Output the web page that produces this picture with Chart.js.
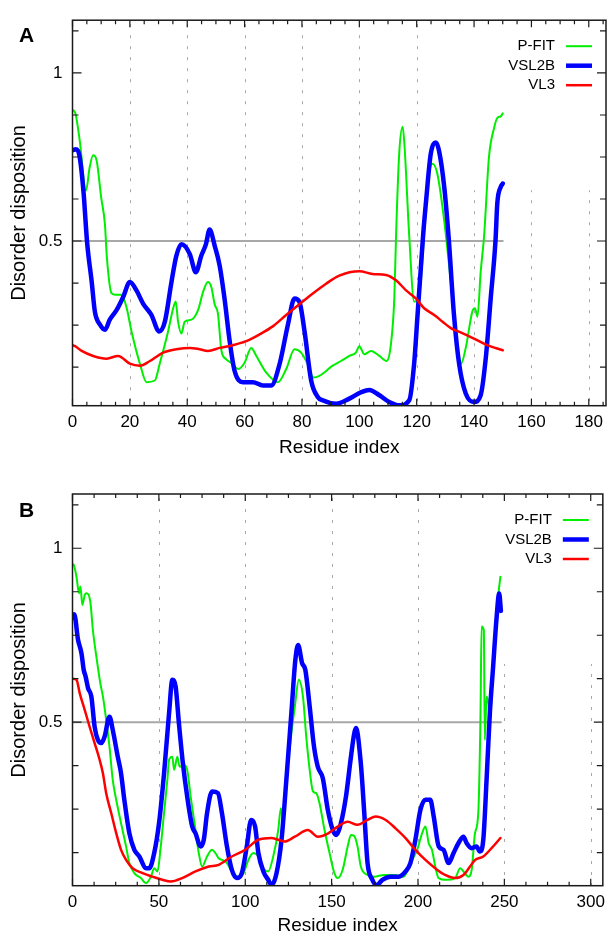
<!DOCTYPE html>
<html>
<head>
<meta charset="utf-8">
<title>Disorder disposition</title>
<script src="https://cdn.jsdelivr.net/npm/chart.js@4.4.1/dist/chart.umd.min.js"></script>
<style>
	html, body { margin: 0; padding: 0; background: #fff; }
	#wrap { position: relative; width: 611px; height: 935px; overflow: hidden; }
	canvas { position: absolute; left: 0; }
	#chartA { top: 0; }
	#chartB { top: 467px; }
</style>
</head>
<body>
<div id="wrap">
	<canvas id="chartA" width="611" height="467"></canvas>
	<canvas id="chartB" width="611" height="468"></canvas>
</div>
<script>
// ---- data: [residue, disorder] ----
var seriesNames = ["P-FIT", "VSL2B", "VL3"];
var cutoff = 0.5;

// panel A (150 residues)
var lenA = 150;
var xTicksA = [0, 20, 40, 60, 80, 100, 120, 140, 160, 180];
var yTicksA = [0.5, 1];
var pfitA = [[0,0.89],[1,0.88],[2.5,0.8],[4.7,0.65],[6,0.72],[7.2,0.755],[8.4,0.74],[10,0.63],[11.3,0.55],[12,0.45],
	[13.6,0.345],[15,0.34],[17.1,0.34],[18.9,0.3],[20.6,0.23],[23.5,0.135],[25.8,0.08],[28.7,0.085],[30.4,0.135],[33.3,0.23],
	[35.1,0.3],[36,0.32],[36.8,0.26],[38,0.225],[39.1,0.26],[41.5,0.266],[43.8,0.295],[45.5,0.348],[47.2,0.378],[48.4,0.363],
	[49.6,0.31],[50.7,0.285],[51.9,0.175],[53.6,0.148],[55.9,0.134],[57.7,0.119],[60,0.138],[62.3,0.182],[64.1,0.158],[67.5,0.109],
	[71.6,0.08],[74.5,0.119],[77.4,0.178],[79.7,0.168],[82,0.134],[84,0.094],[86.1,0.099],[90.7,0.129],[93.6,0.143],[96.5,0.158],
	[98.8,0.168],[100,0.187],[101.7,0.163],[104.1,0.173],[107,0.158],[109.5,0.143],[111,0.192],[112.2,0.33],[112.8,0.515],[113.9,0.76],
	[115.1,0.84],[115.7,0.79],[117.4,0.515],[119.1,0.32],[120.9,0.34],[122.6,0.52],[124,0.68],[125.5,0.73],[127.2,0.7],[129.6,0.56],
	[131.9,0.378],[133.6,0.231],[135.4,0.134],[137.1,0.182],[139.4,0.29],[140.3,0.3],[141.2,0.275],[142.3,0.407],[143.5,0.515],[145.2,0.75],
	[147,0.837],[148.1,0.866],[149.3,0.871],[150,0.88]];
var vsl2bA = [[0,0.77],[1.2,0.773],[2.4,0.755],[3.8,0.65],[5.1,0.495],[6.7,0.378],[7.8,0.29],[9.6,0.251],[11.3,0.236],[13,0.266],
	[15.4,0.295],[17.7,0.334],[20,0.378],[22.3,0.353],[24.6,0.314],[27.5,0.28],[30.2,0.231],[32.2,0.26],[34.5,0.378],[36.2,0.456],
	[38,0.49],[40.9,0.461],[43,0.407],[44.9,0.456],[46.5,0.49],[47.8,0.534],[49.6,0.485],[51.3,0.427],[53,0.329],[54.8,0.202],
	[56.5,0.114],[59.4,0.08],[62.9,0.08],[66.4,0.07],[69.3,0.07],[72.2,0.134],[75.1,0.251],[77.4,0.329],[79.1,0.319],[80.9,0.231],
	[83.2,0.085],[85.5,0.036],[87.2,0.026],[91.9,0.016],[96.5,0.031],[100.6,0.05],[103.5,0.057],[107,0.041],[110.4,0.021],[113.9,0.011],
	[117.4,0.026],[119.1,0.134],[120.3,0.28],[121.5,0.427],[122.3,0.524],[123.2,0.612],[124.9,0.759],[126.7,0.793],[127.8,0.768],[129.6,0.661],
	[131.1,0.515],[133,0.28],[134.8,0.134],[137.1,0.046],[140,0.021],[142.3,0.041],[144.1,0.153],[145.8,0.329],[147.5,0.505],[148.1,0.612],
	[149.3,0.661],[150,0.671]];
var vl3A = [[0,0.19],[0.9,0.187],[3.2,0.173],[7.2,0.158],[11.9,0.15],[15.9,0.158],[20,0.135],[23.5,0.129],[27,0.143],[31.6,0.168],
	[36.2,0.178],[40.9,0.182],[44.3,0.178],[47.2,0.173],[51.3,0.182],[55.9,0.19],[60.6,0.202],[65.2,0.222],[69.8,0.246],[74.5,0.28],
	[79.1,0.312],[83.8,0.344],[88.4,0.373],[93,0.397],[100,0.41],[104.6,0.402],[109.3,0.399],[112.8,0.383],[116.3,0.353],[119.7,0.329],
	[122.6,0.3],[126.1,0.28],[129,0.26],[131.9,0.241],[135.9,0.226],[139.4,0.212],[144.1,0.192],[150,0.175]];

// panel B (248 residues)
var lenB = 248;
var xTicksB = [0, 50, 100, 150, 200, 250, 300];
var yTicksB = [0.5, 1];
var pfitB = [[0,0.955],[0.75,0.952],[2.3,0.918],[3.8,0.871],[4.6,0.89],[5.7,0.837],[7.1,0.866],[8,0.871],[10.3,0.847],[11.8,0.765],
	[13.8,0.689],[16.1,0.612],[17.6,0.574],[19.5,0.507],[21.4,0.43],[23.3,0.334],[25.3,0.277],[28.1,0.21],[31,0.143],[32.9,0.095],
	[35.8,0.066],[39.6,0.052],[42.5,0.037],[45.4,0.056],[47.3,0.08],[49.2,0.071],[51.1,0.143],[53,0.239],[54.9,0.334],[55.9,0.392],
	[57.8,0.401],[58.8,0.363],[60.7,0.401],[62,0.372],[64.5,0.377],[66.4,0.363],[68.4,0.286],[71.2,0.19],[73.1,0.124],[75,0.085],
	[77.9,0.114],[80.8,0.133],[82.7,0.124],[84.6,0.109],[86.5,0.104],[89.4,0.095],[92.2,0.071],[96.1,0.056],[99,0.066],[101.8,0.104],
	[104.7,0.124],[107.6,0.114],[110.5,0.08],[113.3,0.071],[116.2,0.114],[119.1,0.19],[120.6,0.253],[121.9,0.219],[123.8,0.334],[126.7,0.468],
	[128.7,0.545],[131,0.622],[133.4,0.574],[135.3,0.459],[137.3,0.363],[139.2,0.301],[141.1,0.296],[143,0.267],[145.9,0.19],[148.8,0.124],
	[151.6,0.066],[153.5,0.052],[156.4,0.076],[159.3,0.143],[161.2,0.176],[163.1,0.173],[165,0.143],[166.9,0.085],[170.8,0.061],[174.6,0.056],
	[180.4,0.061],[186.1,0.061],[191.8,0.056],[195.6,0.095],[199.5,0.133],[202.4,0.181],[204.3,0.2],[206.2,0.152],[208.1,0.133],[210,0.085],
	[211.9,0.052],[216.7,0.047],[221.5,0.052],[224.4,0.08],[226.3,0.071],[229.2,0.056],[231.1,0.076],[233,0.181],[234.9,0.239],[236.2,0.526],
	[236.8,0.775],[238.1,0.765],[238.7,0.449],[239.7,0.574],[240.7,0.555],[241.6,0.507],[243.5,0.66],[245.4,0.813],[247.7,0.918]];
var vsl2bB = [[0,0.8],[1,0.81],[3.2,0.737],[5.2,0.698],[6.5,0.65],[7.6,0.631],[9,0.598],[10.9,0.574],[12.8,0.487],[14.7,0.449],
	[16.7,0.44],[18.6,0.459],[21.4,0.516],[23.3,0.478],[26.2,0.401],[28.1,0.353],[30,0.277],[32.9,0.181],[35.8,0.133],[38.7,0.114],
	[42.5,0.08],[44.4,0.08],[47.3,0.124],[50.1,0.21],[53,0.353],[55.9,0.526],[57.8,0.622],[59.7,0.602],[61.6,0.497],[63.9,0.382],
	[66.4,0.286],[69.3,0.2],[71.2,0.181],[74.1,0.143],[76,0.162],[77.9,0.239],[80.8,0.301],[84.2,0.296],[86.5,0.239],[89.4,0.143],
	[92.2,0.076],[95.1,0.052],[98,0.066],[100.9,0.143],[103.4,0.219],[105.7,0.2],[107.6,0.124],[110.5,0.071],[113.3,0.047],[115.2,0.032],
	[118.1,0.066],[121,0.162],[123.8,0.334],[126.7,0.526],[129,0.679],[130.6,0.722],[132.9,0.67],[134.8,0.65],[137.3,0.545],[139.8,0.43],
	[142,0.372],[144.9,0.339],[147.8,0.248],[150.7,0.19],[152.6,0.176],[155.4,0.21],[158.3,0.286],[161.2,0.401],[163.1,0.468],[164.1,0.483],
	[166.9,0.382],[168.9,0.239],[170.8,0.095],[173.6,0.047],[176.1,0.032],[179.4,0.047],[184.1,0.056],[188.9,0.056],[192.8,0.071],[195.6,0.095],
	[198.5,0.162],[201.4,0.248],[204.3,0.277],[207.1,0.277],[209.1,0.229],[212,0.143],[214.8,0.133],[217.7,0.095],[220.6,0.124],[223.4,0.152],
	[226.3,0.171],[228.2,0.152],[231.1,0.138],[233.9,0.143],[235.8,0.128],[237.8,0.162],[239.7,0.334],[241.6,0.526],[243.5,0.66],[245.4,0.794],
	[247,0.87],[248,0.82]];
var vl3B = [[0,0.625],[2.3,0.622],[4.2,0.583],[7.1,0.535],[9.9,0.487],[12.8,0.44],[15.7,0.392],[17.6,0.353],[19.5,0.296],[22.4,0.239],
	[25.3,0.181],[28.1,0.133],[31,0.104],[34.8,0.08],[40.6,0.066],[46.3,0.056],[52,0.047],[56.9,0.042],[63.5,0.052],[71.2,0.071],
	[78.9,0.085],[84.6,0.09],[92.2,0.114],[99.9,0.133],[107.6,0.162],[115.2,0.167],[122.9,0.157],[128.7,0.171],[136.3,0.19],[142,0.171],
	[147.8,0.18],[153.5,0.2],[159.3,0.214],[165,0.205],[170.8,0.219],[175.5,0.229],[181.3,0.219],[187,0.195],[192.8,0.167],[198.5,0.133],
	[204.3,0.104],[210,0.08],[215.7,0.061],[221.5,0.052],[226.3,0.061],[230.1,0.085],[233,0.104],[237.8,0.114],[242.6,0.138],[247.7,0.167]];

var FONT = "'Liberation Sans', Arial, Helvetica, sans-serif";
var lineColors = ["#00ee00", "#0000ff", "#ff0000"];
var lineWidths = [2, 4.5, 2.5];

function toPts(arr) {
	return arr.map(function(p) { return { x: p[0], y: p[1] }; });
}

// gnuplot style frame: dashed grid, opaque key box, inward ticks, key, panel letter
var gnuBox = {
	id: "gnuBox",
	beforeDatasetsDraw: function(chart) {
		var ctx = chart.ctx, a = chart.chartArea, xs = chart.scales.x;
		var o = chart.options.plugins.gnuBox;
		ctx.save();
		ctx.strokeStyle = "#a8a8a8";
		ctx.lineWidth = 1;
		ctx.setLineDash([3, 8]);
		o.xTicks.forEach(function(v) {
			if (v <= xs.min || v >= xs.max) return;
			var px = Math.round(xs.getPixelForValue(v)) + 0.5;
			ctx.beginPath();
			ctx.moveTo(px, a.top + 4);
			ctx.lineTo(px, a.bottom);
			ctx.stroke();
		});
		ctx.setLineDash([]);
		// key box hides the grid behind it
		ctx.fillStyle = "#ffffff";
		ctx.fillRect(a.right - 140, a.top + 1, 139, 169);
		ctx.restore();
	},
	afterDatasetsDraw: function(chart) {
		var ctx = chart.ctx, a = chart.chartArea, xs = chart.scales.x, ys = chart.scales.y;
		var o = chart.options.plugins.gnuBox;
		var v, p, len;
		ctx.save();
		ctx.strokeStyle = "#1a1a1a";
		ctx.lineWidth = 1.5;
		ctx.strokeRect(a.left, a.top, a.right - a.left, a.bottom - a.top);

		ctx.lineWidth = 1.2;
		ctx.beginPath();
		for (v = 0; v <= xs.max; v += o.xMinor) {
			p = xs.getPixelForValue(v);
			len = o.xTicks.indexOf(v) >= 0 ? 7 : 4;
			ctx.moveTo(p, a.bottom); ctx.lineTo(p, a.bottom - len);
			ctx.moveTo(p, a.top); ctx.lineTo(p, a.top + len);
		}
		for (v = 0.125; v < ys.max; v += 0.125) {
			if (v <= ys.min) continue;
			p = ys.getPixelForValue(v);
			len = o.yTicks.indexOf(v) >= 0 ? 9 : 6;
			ctx.moveTo(a.left, p); ctx.lineTo(a.left + len, p);
			ctx.moveTo(a.right, p); ctx.lineTo(a.right - len, p);
		}
		ctx.stroke();

		// key
		ctx.font = "15px " + FONT;
		ctx.fillStyle = "#000";
		ctx.textAlign = "right";
		ctx.textBaseline = "middle";
		seriesNames.forEach(function(name, i) {
			var y = a.top + 26 + i * 19.5;
			ctx.fillText(name, a.right - 51, y);
			ctx.beginPath();
			ctx.strokeStyle = lineColors[i];
			ctx.lineWidth = lineWidths[i];
			ctx.moveTo(a.right - 40, y);
			ctx.lineTo(a.right - 14, y);
			ctx.stroke();
		});

		// panel letter
		ctx.font = "bold 21px " + FONT;
		ctx.textAlign = "center";
		ctx.textBaseline = "alphabetic";
		ctx.fillText(o.letter, 26.5, o.letterY);
		ctx.restore();
	}
};

function makeChart(id, cfg) {
	var canvas = document.getElementById(id);
	var H = canvas.height;
	var datasets = [cfg.vl3, cfg.vsl2b, cfg.pfit].map(function(arr, k) {
		var i = 2 - k;
		return {
			label: seriesNames[i],
			data: toPts(arr),
			borderColor: lineColors[i],
			borderWidth: lineWidths[i],
			order: k
		};
	});
	datasets.push({
		label: "cutoff",
		data: [{ x: 0, y: cutoff }, { x: cfg.len, y: cutoff }],
		borderColor: "#a8a8a8",
		borderWidth: 2,
		order: 3
	});

	return new Chart(canvas, {
		type: "line",
		data: { datasets: datasets },
		plugins: [gnuBox],
		options: {
			responsive: false,
			animation: false,
			devicePixelRatio: 1,
			layout: { padding: { top: cfg.top, right: cfg.right, left: 0, bottom: 0 } },
			elements: {
				point: { radius: 0 },
				line: { cubicInterpolationMode: "monotone", borderJoinStyle: "round", borderCapStyle: "round" }
			},
			plugins: {
				legend: { display: false },
				tooltip: { enabled: false },
				gnuBox: { xTicks: cfg.xTicks, yTicks: cfg.yTicks, xMinor: cfg.xMinor, letter: cfg.letter, letterY: cfg.letterY }
			},
			scales: {
				x: {
					type: "linear",
					min: 0,
					max: cfg.xMax,
					grid: { display: false, drawTicks: false },
					border: { display: false },
					afterBuildTicks: function(s) { s.ticks = cfg.xTicks.map(function(v) { return { value: v }; }); },
					afterFit: function(s) { s.height = H - cfg.top - cfg.plotH; },
					ticks: {
						padding: 6, maxRotation: 0, autoSkip: false, color: "#000",
						font: { family: FONT, size: 17 },
						callback: function(v) { return String(v); }
					},
					title: {
						display: true, text: "Residue index", color: "#000",
						font: { family: FONT, size: 19, lineHeight: 1 },
						padding: { top: 0, bottom: cfg.xTitlePad }
					}
				},
				y: {
					type: "linear",
					min: cfg.yMin,
					max: cfg.yMax,
					grid: { display: false, drawTicks: false },
					border: { display: false },
					afterBuildTicks: function(s) { s.ticks = cfg.yTicks.map(function(v) { return { value: v }; }); },
					afterFit: function(s) { s.width = cfg.left; },
					ticks: {
						padding: 10, color: "#000",
						font: { family: FONT, size: 17 },
						callback: function(v) { return String(v); }
					},
					title: {
						display: true, text: "Disorder disposition", color: "#000",
						font: { family: FONT, size: 20, lineHeight: 1 },
						padding: { top: 9.5, bottom: 0 }
					}
				}
			}
		}
	});
}

makeChart("chartA", {
	pfit: pfitA, vsl2b: vsl2bA, vl3: vl3A, len: lenA,
	xTicks: xTicksA, yTicks: yTicksA, xMinor: 5, xMax: 186, yMin: 0.01, yMax: 1.157,
	top: 14, right: 5, left: 72.5, plotH: 391.7, xTitlePad: 9.5,
	letter: "A", letterY: 42
});

makeChart("chartB", {
	pfit: pfitB, vsl2b: vsl2bB, vl3: vl3B, len: lenB,
	xTicks: xTicksB, yTicks: yTicksB, xMinor: 12.5, xMax: 307, yMin: 0.03, yMax: 1.156,
	top: 27, right: 3.7, left: 72.5, plotH: 391.7, xTitlePad: 0,
	letter: "B", letterY: 50
});
</script>
</body>
</html>
